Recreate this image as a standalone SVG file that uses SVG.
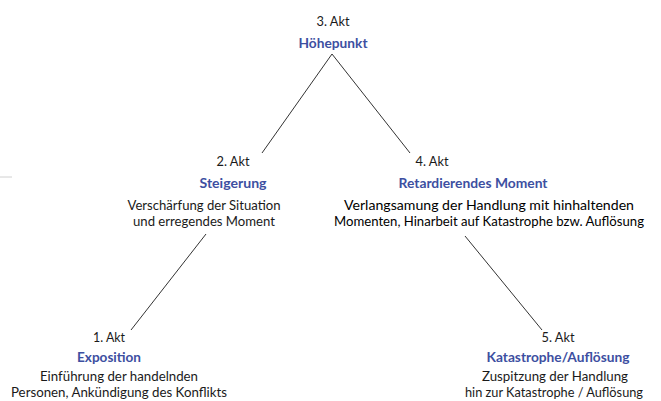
<svg xmlns="http://www.w3.org/2000/svg" width="661" height="401" viewBox="0 0 661 401">
<style>
text{font-family:Lato,"Noto Sans","Liberation Sans",sans-serif;font-size:13.5px;fill:#1a1a1a;text-anchor:middle}
.t{font-weight:bold;fill:#3d4fa1}
.d2{font-size:13px;fill:#000}
.c{stroke:#333;stroke-width:1;fill:none}
</style>
<rect width="661" height="401" fill="#fff"/>
<line x1="0" y1="177" x2="12" y2="177" stroke="#d0d0d0" stroke-width="1"/>
<g id="connectors">
<polyline class="c" points="262,153 332,54 410,153"/>
<line class="c" x1="206" y1="234" x2="131" y2="330"/>
<line class="c" x1="465" y1="236" x2="542" y2="330"/>
</g>
<g id="akt3">
<text x="333" y="26" textLength="33" lengthAdjust="spacingAndGlyphs">3. Akt</text>
<text class="t" x="333" y="48" textLength="69" lengthAdjust="spacingAndGlyphs">Höhepunkt</text>
</g>
<g id="akt2">
<text x="233" y="166" textLength="33" lengthAdjust="spacingAndGlyphs">2. Akt</text>
<text class="t" x="233" y="188" textLength="67" lengthAdjust="spacingAndGlyphs">Steigerung</text>
<text x="204" y="210" textLength="153" lengthAdjust="spacingAndGlyphs">Verschärfung der Situation</text>
<text x="204" y="226" textLength="142" lengthAdjust="spacingAndGlyphs">und erregendes Moment</text>
</g>
<g id="akt4">
<text x="432" y="166" textLength="33" lengthAdjust="spacingAndGlyphs">4. Akt</text>
<text class="t" x="473" y="188" textLength="149" lengthAdjust="spacingAndGlyphs">Retardierendes Moment</text>
<text class="d2" x="489" y="210" textLength="290" lengthAdjust="spacingAndGlyphs">Verlangsamung der Handlung mit hinhaltenden</text>
<text class="d2" x="489" y="226" textLength="310" lengthAdjust="spacingAndGlyphs">Momenten, Hinarbeit auf Katastrophe bzw. Auflösung</text>
</g>
<g id="akt1">
<text x="109" y="342" textLength="32" lengthAdjust="spacingAndGlyphs">1. Akt</text>
<text class="t" x="109" y="362" textLength="64" lengthAdjust="spacingAndGlyphs">Exposition</text>
<text x="119" y="381" textLength="158" lengthAdjust="spacingAndGlyphs">Einführung der handelnden</text>
<text x="119" y="397" textLength="216" lengthAdjust="spacingAndGlyphs">Personen, Ankündigung des Konflikts</text>
</g>
<g id="akt5">
<text x="558" y="342" textLength="33" lengthAdjust="spacingAndGlyphs">5. Akt</text>
<text class="t" x="558" y="362" textLength="143" lengthAdjust="spacingAndGlyphs">Katastrophe/Auflösung</text>
<text x="555" y="381" textLength="146" lengthAdjust="spacingAndGlyphs">Zuspitzung der Handlung</text>
<text x="554" y="397" textLength="178" lengthAdjust="spacingAndGlyphs">hin zur Katastrophe / Auflösung</text>
</g>
</svg>
